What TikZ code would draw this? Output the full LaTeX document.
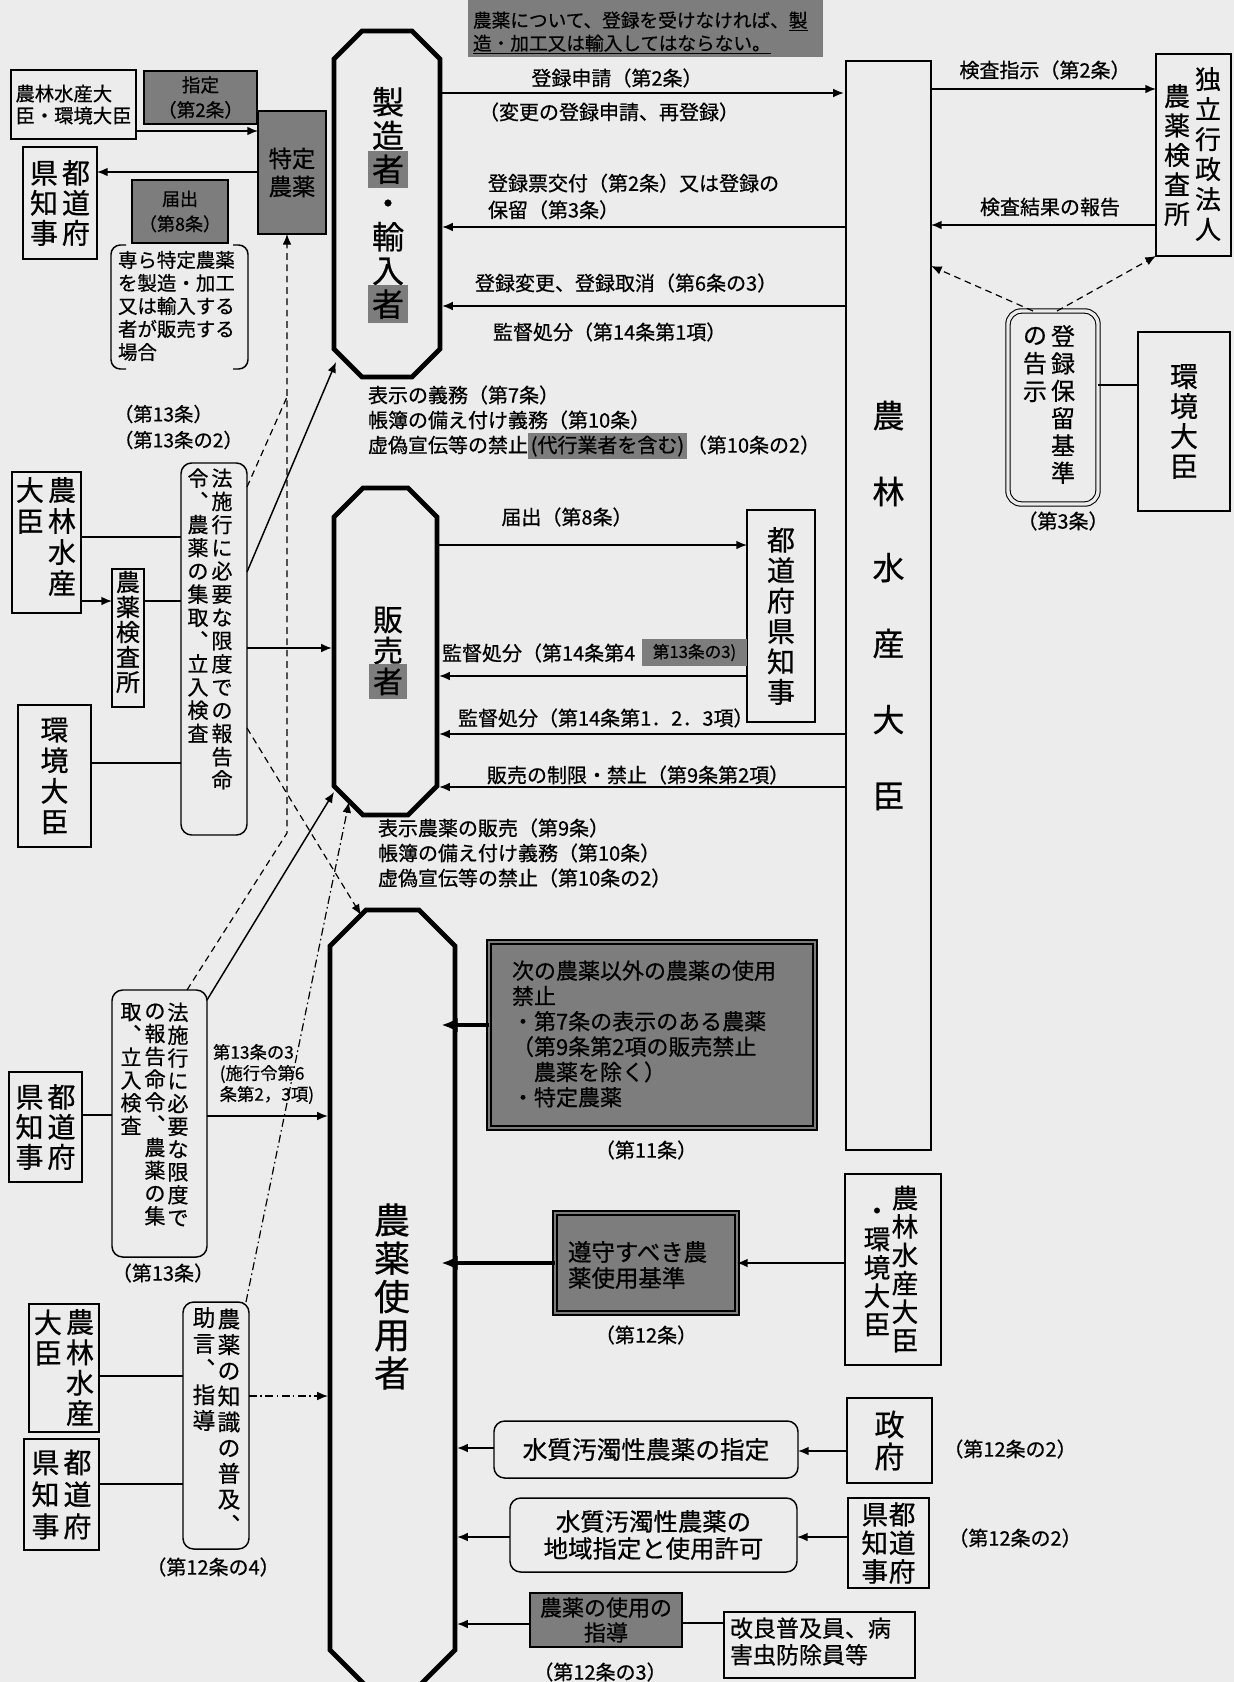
\documentclass[tikz,border=0pt]{standalone}
\usepackage{fontspec}
\setmainfont{Noto Sans CJK JP}[FakeBold=0.6]
\usetikzlibrary{arrows.meta,calc}
\definecolor{bg}{RGB}{236,236,236}
\definecolor{boxgray}{RGB}{125,125,125}
\makeatletter
\def\vt@end{\vt@end@}
\newcommand\vt[2]{\vtop{\baselineskip=#1\relax\lineskiplimit=-\maxdimen\lineskip=0pt\vt@loop#2\vt@end}}
\def\vt@loop#1{\ifx\vt@end#1\else\hbox to 1em{\hss#1\hss}\expandafter\vt@loop\fi}
\makeatother
\newcommand\hl[1]{{\setlength\fboxsep{3pt}\colorbox{boxgray}{#1}}}
\newcommand\hlx[1]{{\setlength\fboxsep{2pt}\smash{\colorbox{boxgray}{#1}}}}
\newcommand\fsz[2]{\fontsize{#1}{#2}\selectfont}
\newcommand\bx[7][]{\node[#1,minimum width={(#5-(#3))*0.75},minimum height={(#6-(#4))*0.75},inner sep=0pt,outer sep=0pt] (#2) at ({(#3+#5)/2},{(#4+#6)/2}) {#7};}
\newcommand\octa[2]{\draw[oct] ($(#1.north west)+(0,#2)$) -- ($(#1.north west)+(#2,0)$) -- ($(#1.north east)+(-#2,0)$) -- ($(#1.north east)+(0,#2)$) -- ($(#1.south east)+(0,-#2)$) -- ($(#1.south east)+(-#2,0)$) -- ($(#1.south west)+(#2,0)$) -- ($(#1.south west)+(0,-#2)$) -- cycle;}
\tikzset{
  ln/.style={line width=1.1pt},
  bxs/.style={draw,line width=1.1pt},
  gbx/.style={draw,line width=1.1pt,fill=boxgray},
  rbx/.style={draw,line width=1.1pt,rounded corners=8pt},
  oct/.style={line width=3.6pt,line join=miter},
  arr/.style={line width=1.1pt,-{Latex[length=8pt,width=6.5pt]}},
  toct/.style={shorten >=1.6pt},
  dd/.style={line width=0.9pt,dash pattern=on 5pt off 3.5pt},
  darr/.style={dd,-{Latex[length=8pt,width=6.5pt]}},
  ddot/.style={line width=0.9pt,dash pattern=on 6pt off 2.5pt on 1.2pt off 2.5pt,-{Latex[length=8pt,width=6.5pt]}},
  tarr/.style={line width=3.2pt,-{Latex[length=12pt,width=11pt]},shorten >=-10pt},
  txt/.style={inner sep=0pt,outer sep=0pt},
  lf/.style={font=\fsz{15}{18}},
}
\begin{document}
\begin{tikzpicture}[x=0.75pt,y=-0.75pt]
\fill[bg] (0,0) rectangle (1234,1682);
\useasboundingbox (0,0) rectangle (1234,1682);
\clip (0,0) rectangle (1234,1682);

% ---------- top left ----------
\bx[bxs,align=left,font=\fsz{14.5}{16.5}]{mafftop}{11}{70}{136}{139}{農林水産大\\臣・環境大臣}
\bx[gbx,align=center,font=\fsz{14}{18.75}]{shitei}{144}{71}{257}{124}{指定\\（第2条）}
\bx[gbx,align=center,font=\fsz{17.5}{21}]{tokutei}{258}{111}{326}{234}{特定\\農薬}
\bx[bxs,font=\fsz{21}{21}]{kentop}{23}{147}{97}{259}{\hbox{\vt{22.5pt}{県知事}\kern3pt\vt{22.5pt}{都道府}}}
\bx[gbx,align=center,font=\fsz{13.5}{18.75}]{todoke}{132}{180}{228}{243}{届出\\（第8条）}
\node[txt,anchor=west,align=left,font=\fsz{14.6}{17.25}] (senra) at (118,306) {専ら特定農薬\\を製造・加工\\又は輸入する\\者が販売する\\場合};
\draw[ln,rounded corners=7pt] (126,245) -- (111,245) -- (111,369) -- (126,369);
\draw[ln,rounded corners=7pt] (233,245) -- (248,245) -- (248,369) -- (233,369);

% ---------- manufacturer ----------
\bx[]{seizo}{334}{31}{440}{377}{}
\octa{seizo}{28}
\node[txt,font=\fsz{24}{24}] (seizoT) at (388,205) {\vt{25.3pt}{製造{\hl{者}}・輸入{\hl{者}}}};

\bx[fill=boxgray]{notice}{468}{0}{823}{57}{}
\node[txt,anchor=west,align=left,font=\fsz{14}{17.25}] (noticeT) at (473,33) {農薬について、登録を受けなければ、\underline{製}\\\underline{造・加工又は輸入してはならない。}};

% ---------- minister (main) ----------
\bx[bxs,font=\fsz{24}{24}]{mafmain}{846}{61}{931}{1150}{\vt{57pt}{農林水産大臣}}

\bx[bxs]{kensa}{1156}{54}{1231}{256}{}
\node[txt,font=\fsz{19.5}{19.5}] (kensaR) at (1208,154) {\vt{22.5pt}{独立行政法人}};
\node[txt,font=\fsz{19.5}{19.5}] (kensaL) at (1177,155) {\vt{22.1pt}{農薬検査所}};
\node[txt,lf] (l1) at (1045,70) {検査指示（第2条）};
\node[txt,lf] (l2) at (1050,207) {検査結果の報告};

\bx[draw,line width=0.8pt,double=bg,double distance=2.5pt,rounded corners=10pt]{horyu}{1008}{311}{1098}{504}{}
\node[txt,font=\fsz{18}{18}] (horyuR) at (1063,404.5) {\vt{20.5pt}{登録保留基準}};
\node[txt,font=\fsz{18}{18}] (horyuL) at (1035,364.5) {\vt{21pt}{の告示}};
\node[txt,lf] (l3) at (1063,521) {（第3条）};
\bx[bxs,font=\fsz{21}{21}]{kankyoR}{1138}{332}{1230}{511}{\vt{22.5pt}{環境大臣}}

% labels seizo
\node[txt,lf] (l4) at (617,78) {登録申請（第2条）};
\node[txt,lf,anchor=west] (l5) at (479,112) {（変更の登録申請、再登録）};
\node[txt,anchor=west,align=left,font=\fsz{15}{20}] (l6) at (488,196.5) {登録票交付（第2条）又は登録の\\保留（第3条）};
\node[txt,lf,anchor=west] (l7) at (475,283) {登録変更、登録取消（第6条の3）};
\node[txt,lf,anchor=west] (l8) at (493,332) {監督処分（第14条第1項）};
\node[txt,anchor=west,align=left,font=\fsz{15}{18.75}] (l9) at (368,420) {表示の義務（第7条）\\帳簿の備え付け義務（第10条）\\虚偽宣伝等の禁止\hlx{(代行業者を含む)}（第10条の2）};

% ---------- seller ----------
\bx[]{hanbai}{334}{488}{437}{815}{}
\octa{hanbai}{29}
\node[txt,font=\fsz{22.5}{22.5}] (hanbaiT) at (388,653) {\vt{23.25pt}{販売{\hl{者}}}};
\bx[bxs,font=\fsz{21}{21}]{chiji}{747}{510}{815}{722}{\vt{22.8pt}{都道府県知事}}
\node[txt,lf] (l10) at (567,517) {届出（第8条）};
\node[txt,lf,anchor=west] (l11) at (442,653) {監督処分（第14条第4};
\bx[fill=boxgray,font=\fsz{12.5}{15}]{l11b}{642}{639}{747}{666}{第13条の3)}
\node[txt,lf,anchor=west] (l12) at (458,718) {監督処分（第14条第1．2．3項）};
\node[txt,lf,anchor=west] (l13) at (487,775) {販売の制限・禁止（第9条第2項）};
\node[txt,anchor=west,align=left,font=\fsz{15}{18.75}] (l14) at (378,853) {表示農薬の販売（第9条）\\帳簿の備え付け義務（第10条）\\虚偽宣伝等の禁止（第10条の2）};

% ---------- left middle ----------
\node[txt,anchor=west,align=left,font=\fsz{14.5}{19.5}] (l15) at (114,427) {（第13条）\\（第13条の2）};
\bx[bxs]{maffL}{12}{472}{81}{613}{}
\node[txt,font=\fsz{21}{21}] (maffLR) at (62,536.5) {\vt{23.25pt}{農林水産}};
\node[txt,font=\fsz{21}{21}] (maffLL) at (30,505.5) {\vt{23.25pt}{大臣}};
\bx[bxs]{kensaL}{112}{569}{144}{707}{}
\node[txt,font=\fsz{18}{18}] (kensaLT) at (128,632) {\vt{18.75pt}{農薬検査所}};
\bx[bxs,font=\fsz{21}{21}]{kankyoL}{18}{705}{91}{847}{\vt{23pt}{環境大臣}}
\bx[rbx]{jo13a}{181}{463}{247}{835}{}
\node[txt,font=\fsz{15.75}{15.75}] (jo13aR) at (222,629) {\vt{17.4pt}{法施行に必要な限度での報告命}};
\node[txt,font=\fsz{15.75}{15.75}] (jo13aL) at (198,605.5) {\vt{17.4pt}{令︑農薬の集取︑立入検査}};

% ---------- left lower ----------
\bx[bxs,font=\fsz{21}{21}]{ken13}{9}{1072}{82}{1182}{\hbox{\vt{22.5pt}{県知事}\kern3pt\vt{22.5pt}{都道府}}}
\bx[rbx]{jo13b}{112}{990}{207}{1257}{}
\node[txt,font=\fsz{15.75}{15.75}] (jo13b1) at (178,1114.5) {\vt{17.1pt}{法施行に必要な限度で}};
\node[txt,font=\fsz{15.75}{15.75}] (jo13b2) at (155,1114.5) {\vt{17.1pt}{の報告命令︑農薬の集}};
\node[txt,font=\fsz{15.75}{15.75}] (jo13b3) at (131,1069) {\vt{17.1pt}{取︑立入検査}};
\node[txt,lf] (l16) at (163,1273) {（第13条）};
\node[txt,anchor=west,align=left,font=\fsz{13}{15.75}] (l17) at (213,1074) {第13条の3\\\hspace*{5pt}(施行令第6\\\hspace*{5pt}条第2，3項)};

\bx[bxs]{maffL2}{29}{1304}{99}{1432}{}
\node[txt,font=\fsz{21}{21}] (maffL2R) at (80,1367.5) {\vt{22.75pt}{農林水産}};
\node[txt,font=\fsz{21}{21}] (maffL2L) at (48,1337.5) {\vt{22.75pt}{大臣}};
\bx[bxs,font=\fsz{21}{21}]{ken124}{24}{1439}{99}{1550}{\hbox{\vt{24pt}{県知事}\kern3pt\vt{24pt}{都道府}}}
\bx[rbx]{jo124}{183}{1302}{249}{1549}{}
\node[txt,font=\fsz{17}{17}] (jo124R) at (229,1421) {\vt{19.3pt}{農薬の知識の普及︑}};
\node[txt,font=\fsz{17}{17}] (jo124L) at (204,1369) {\vt{19.3pt}{助言︑指導}};
\node[txt,lf] (l18) at (213,1567) {（第12条の4）};

% ---------- user ----------
\bx[]{user}{330}{910}{455}{1686}{}
\octa{user}{36}
\node[txt,font=\fsz{27}{27}] (userT) at (392,1296.5) {\vt{28.7pt}{農薬使用者}};

\bx[gbx,double=boxgray,double distance=2.2pt,line width=0.9pt]{jo11}{489}{942}{815}{1128}{}
\node[txt,anchor=west,align=left,font=\fsz{16.5}{19}] (jo11T) at (512,1034) {次の農薬以外の農薬の使用\\禁止\\・第7条の表示のある農薬\\（第9条第2項の販売禁止\\　農薬を除く）\\・特定農薬};
\node[txt,lf] (l19) at (646,1150) {（第11条）};
\bx[gbx,double=boxgray,double distance=2.2pt,line width=0.9pt]{junshu}{555}{1213}{737}{1313}{}
\node[txt,anchor=west,align=left,font=\fsz{17.6}{19.5}] (junshuT) at (568,1265) {遵守すべき農\\薬使用基準};
\node[txt,lf] (l20) at (646,1335) {（第12条）};
\bx[bxs]{maffR}{845}{1174}{941}{1365}{}
\node[txt,font=\fsz{20}{20}] (maffRR) at (905,1269) {\vt{21.3pt}{農林水産大臣}};
\node[txt,font=\fsz{20}{20}] (maffRL) at (877,1272) {\vt{21.3pt}{・環境大臣}};

\bx[bxs,font=\fsz{22.5}{22.5}]{seifu}{847}{1398}{932}{1483}{\vt{24pt}{政府}}
\node[txt,lf] (l21) at (1010,1449) {（第12条の2）};
\bx[rbx,font=\fsz{18.5}{18.5}]{shitei2}{494}{1421}{798}{1478}{水質汚濁性農薬の指定}
\bx[rbx,align=center,font=\fsz{18.3}{20.25}]{chiiki}{510}{1498}{797}{1572}{水質汚濁性農薬の\\地域指定と使用許可}
\bx[bxs,font=\fsz{20}{20}]{ken122}{848}{1498}{929}{1588}{\hbox{\vt{21.4pt}{県知事}\kern0.5pt\vt{21.4pt}{都道府}}}
\node[txt,lf] (l22) at (1015,1538) {（第12条の2）};
\bx[gbx,align=center,font=\fsz{16.5}{18.75}]{shido}{530}{1593}{682}{1647}{農薬の使用の\\指導}
\bx[bxs]{kairyo}{724}{1612}{915}{1678}{}
\node[txt,anchor=west,align=left,font=\fsz{17.25}{20}] (kairyoT) at (730,1641.5) {改良普及員、病\\害虫防除員等};
\node[txt,lf] (l23) at (600,1672) {（第12条の3）};

% ---------- connectors ----------
\coordinate (dj1) at (287,397);
\coordinate (dj2) at (287,833);
\draw[arr] (mafftop.east |- 0,131) -- (tokutei.west |- 0,131);
\draw[arr] (tokutei.west |- 0,172) -- (kentop.east |- 0,172);
\draw[dd] (jo13a.east |- 0,487) -- (dj1);
\draw[darr] (jo13b.north -| 187,0) -- (dj2) -- (tokutei.south -| dj2);

\draw[arr,toct] (seizo.east |- 0,93) -- (mafmain.west |- 0,93);
\draw[arr,toct] (mafmain.west |- 0,227) -- (seizo.east |- 0,227);
\draw[arr,toct] (mafmain.west |- 0,306) -- (seizo.east |- 0,306);
\draw[arr] (mafmain.east |- 0,89) -- (kensa.west |- 0,89);
\draw[arr] (kensa.west |- 0,225) -- (mafmain.east |- 0,225);
\draw[darr] (horyu.north -| 1033,0) -- (mafmain.east |- 0,266);
\draw[darr] (horyu.north -| 1057,0) -- (kensa.south west);
\draw[ln] (horyu.east |- 0,385) -- (kankyoR.west |- 0,385);

\draw[arr] (hanbai.east |- 0,545) -- (chiji.west |- 0,545);
\draw[arr,toct] (chiji.west |- 0,676) -- (hanbai.east |- 0,676);
\draw[arr,toct] (mafmain.west |- 0,734) -- (hanbai.east |- 0,734);
\draw[arr,toct] (mafmain.west |- 0,787) -- (hanbai.east |- 0,787);

\draw[ln] (maffL.east |- 0,537) -- (jo13a.west |- 0,537);
\draw[arr] (maffL.east |- 0,601) -- (kensaL.west |- 0,601);
\draw[ln] (kensaL.east |- 0,601) -- (jo13a.west |- 0,601);
\draw[ln] (kankyoL.east |- 0,763) -- (jo13a.west |- 0,763);
\draw[arr] (jo13a.east |- 0,572) -- ($(seizo.south west)+(2,-15)$);
\draw[arr,toct] (jo13a.east |- 0,648) -- (hanbai.west |- 0,648);
\draw[darr] (jo13a.east |- 0,728) -- ($(user.north west)+(31,5)$);

\draw[ln] (ken13.east |- 0,1115) -- (jo13b.west |- 0,1115);
\draw[arr,toct] (jo13b.east |- 0,1116) -- (user.west |- 0,1116);
\draw[arr] (jo13b.east |- 0,1000) -- ($(hanbai.south west)+(0,-23)$);
\draw[ddot] (jo124.north -| 246,0) -- ($(hanbai.south west)+(15,-13)$);
\draw[ln] (maffL2.east |- 0,1376) -- (jo124.west |- 0,1376);
\draw[ln] (ken124.east |- 0,1484) -- (jo124.west |- 0,1484);
\draw[ddot,toct] (jo124.east |- 0,1396) -- (user.west |- 0,1396);

\draw[tarr] (jo11.west |- 0,1025) -- (user.east |- 0,1025);
\draw[tarr] (junshu.west |- 0,1263) -- (user.east |- 0,1263);
\draw[arr] (maffR.west |- 0,1263) -- (junshu.east |- 0,1263);
\draw[arr] (seifu.west |- 0,1451) -- (shitei2.east |- 0,1451);
\draw[arr,toct] (shitei2.west |- 0,1448) -- (user.east |- 0,1448);
\draw[arr] (ken122.west |- 0,1537) -- (chiiki.east |- 0,1537);
\draw[arr,toct] (chiiki.west |- 0,1537) -- (user.east |- 0,1537);
\draw[ln] (kairyo.west |- 0,1623) -- (shido.east |- 0,1623);
\draw[arr,toct] (shido.west |- 0,1624) -- (user.east |- 0,1624);
\end{tikzpicture}
\end{document}
